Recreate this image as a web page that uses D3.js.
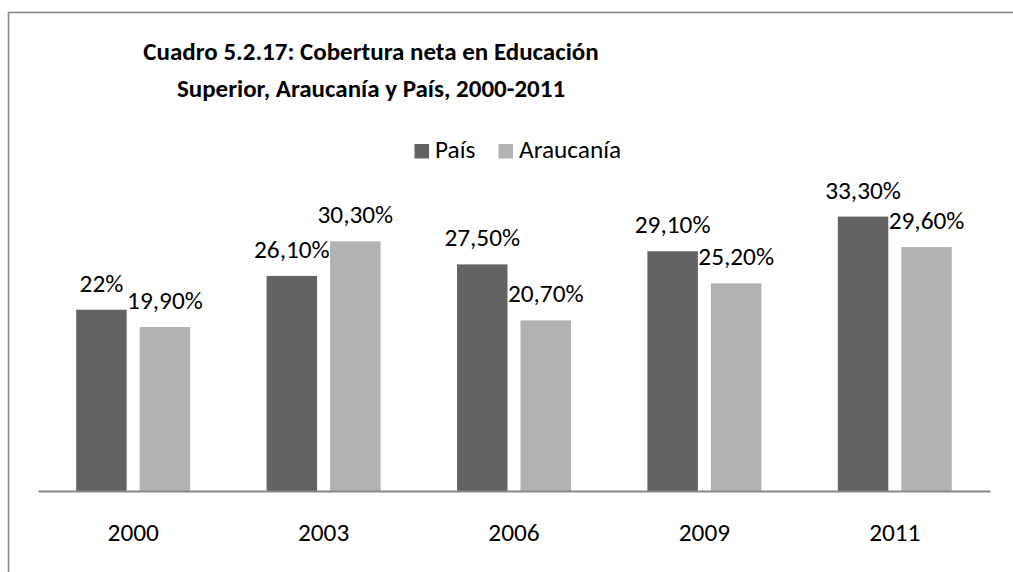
<!DOCTYPE html>
<html>
<head>
<meta charset="utf-8">
<script src="https://cdn.jsdelivr.net/npm/d3@7"></script>
<style>
  body { margin: 0; background: #fff; }
  text { font-family: Carlito, Calibri, "Open Sans", sans-serif; fill: #000; }
</style>
</head>
<body>
<div id="chart"></div>
<script>
// data
var years = ["2000", "2003", "2006", "2009", "2011"];
var series = ["País", "Araucanía"];
var pais = [22, 26.1, 27.5, 29.1, 33.3];
var araucania = [19.9, 30.3, 20.7, 25.2, 29.6];
var titleLines = ["Cuadro 5.2.17: Cobertura neta en Educación", "Superior, Araucanía y País, 2000-2011"];

var colors = {"País": "#636363", "Araucanía": "#b2b2b2"};

var width = 1013, height = 572;
var labelSize = "25.3px";

var svg = d3.select("#chart").append("svg")
    .attr("width", width)
    .attr("height", height);

svg.append("rect")
    .attr("width", width).attr("height", height)
    .attr("fill", "#fff");

// outer frame (right and bottom edges fall outside the picture)
svg.append("rect")
    .attr("x", 8.5).attr("y", 12.5)
    .attr("width", width + 20).attr("height", height + 20)
    .attr("fill", "none")
    .attr("stroke", "#878787")
    .attr("stroke-width", 1.6);

// title
svg.selectAll("text.title")
    .data(titleLines)
    .enter()
    .append("text")
    .attr("class", "title")
    .attr("x", 371)
    .attr("y", (d, i) => 60 + i * 37)
    .attr("text-anchor", "middle")
    .style("font-weight", "bold")
    .style("font-size", "25px")
    .text(d => d);

// legend
var legend = svg.append("g");
var legendX = [414.5, 498.5];
series.forEach(function (s, i) {
    legend.append("rect")
        .attr("x", legendX[i]).attr("y", 144)
        .attr("width", 14.5).attr("height", 14.5)
        .attr("fill", colors[s]);
    legend.append("text")
        .attr("x", legendX[i] + 20.5).attr("y", 158)
        .style("font-size", labelSize)
        .text(s);
});

// scales
var x0 = d3.scaleBand().domain(years).range([38, 990]);
var pairW = 114;
var x1 = d3.scaleBand().domain(series)
    .range([(x0.bandwidth() - pairW) / 2, (x0.bandwidth() + pairW) / 2])
    .paddingInner(0.205);
var y = d3.scaleLinear().domain([0, 40]).range([491, 161.4]);

var rows = years.map((yr, i) => ({year: yr, values: [
    {key: "País", value: pais[i]},
    {key: "Araucanía", value: araucania[i]}
]}));

var fmt = v => Number.isInteger(v) ? v + "%" : v.toFixed(2).replace(".", ",") + "%";

var groups = svg.selectAll("g.year")
    .data(rows)
    .enter()
    .append("g")
    .attr("class", "year")
    .attr("transform", d => "translate(" + x0(d.year) + ",0)");

groups.selectAll("rect")
    .data(d => d.values)
    .enter()
    .append("rect")
    .attr("x", d => x1(d.key))
    .attr("y", d => y(d.value))
    .attr("width", x1.bandwidth())
    .attr("height", d => y(0) - y(d.value))
    .attr("fill", d => colors[d.key]);

groups.selectAll("text.val")
    .data(d => d.values)
    .enter()
    .append("text")
    .attr("class", "val")
    .attr("x", d => x1(d.key) + x1.bandwidth() / 2)
    .attr("y", d => y(d.value) - 18)
    .attr("text-anchor", "middle")
    .style("font-size", labelSize)
    .text(d => fmt(d.value));

// category axis
var xAxis = svg.append("g")
    .attr("transform", "translate(0," + y(0) + ")")
    .call(d3.axisBottom(x0).tickSize(0).tickPadding(32));
xAxis.select(".domain").attr("stroke", "#878787").attr("stroke-width", 2);
xAxis.selectAll("text")
    .style("font-size", labelSize)
    .style("font-family", "Carlito, Calibri, 'Open Sans', sans-serif")
    .attr("fill", "#000");
</script>
</body>
</html>
